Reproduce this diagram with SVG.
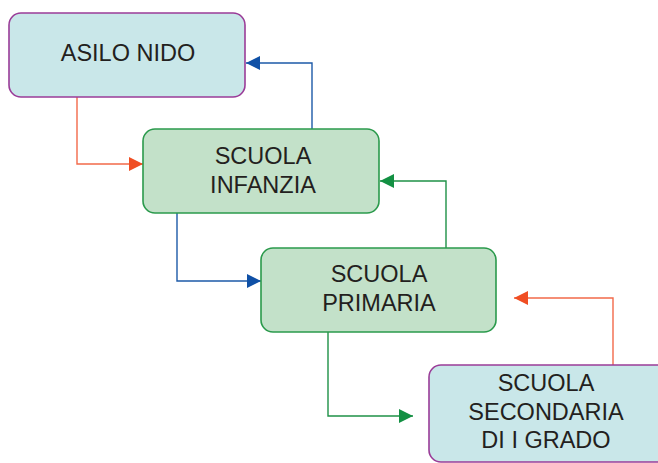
<svg xmlns="http://www.w3.org/2000/svg" width="658" height="463" viewBox="0 0 658 463">
  <style>
    .cyan { fill: #c9e7e9; stroke: #9a3c98; stroke-width: 1.6; }
    .green { fill: #c3e1c9; stroke: #2b9a4c; stroke-width: 1.6; }
    .lbl { font-family: "Liberation Sans", Arial, sans-serif; font-size: 23.5px; fill: #231f20; text-anchor: middle; }
    .wire { fill: none; stroke-width: 1.4; }
    .red { stroke: #f26a4a; }
    .blue { stroke: #1d5aa8; }
    .grn { stroke: #1f9147; }
  </style>
  <defs>
    <marker id="ahRed" viewBox="0 0 14 14" refX="14" refY="7" markerWidth="14" markerHeight="14" markerUnits="userSpaceOnUse" orient="auto">
      <path d="M0,0 L14,7 L0,14 Z" fill="#f04e23"/>
    </marker>
    <marker id="ahBlue" viewBox="0 0 14 14" refX="14" refY="7" markerWidth="14" markerHeight="14" markerUnits="userSpaceOnUse" orient="auto">
      <path d="M0,0 L14,7 L0,14 Z" fill="#0f50a6"/>
    </marker>
    <marker id="ahGreen" viewBox="0 0 14 14" refX="14" refY="7" markerWidth="14" markerHeight="14" markerUnits="userSpaceOnUse" orient="auto">
      <path d="M0,0 L14,7 L0,14 Z" fill="#139043"/>
    </marker>
  </defs>

  <g id="connectors">
    <path class="wire red" d="M77,97 V164 H143" marker-end="url(#ahRed)"/>
    <path class="wire blue" d="M312,129 V63 H246" marker-end="url(#ahBlue)"/>
    <path class="wire blue" d="M177,213 V281 H261" marker-end="url(#ahBlue)"/>
    <path class="wire grn" d="M446,248 V181 H380" marker-end="url(#ahGreen)"/>
    <path class="wire grn" d="M328,332 V416 H413" marker-end="url(#ahGreen)"/>
    <path class="wire red" d="M613,365 V298 H514" marker-end="url(#ahRed)"/>
  </g>

  <g id="asilo-nido">
    <rect class="cyan" x="9" y="13" width="236" height="84" rx="12"/>
    <text class="lbl" x="128" y="61">ASILO NIDO</text>
  </g>

  <g id="scuola-infanzia">
    <rect class="green" x="143" y="129" width="236" height="84" rx="12"/>
    <text class="lbl" x="263" y="164">SCUOLA</text>
    <text class="lbl" x="263" y="193">INFANZIA</text>
  </g>

  <g id="scuola-primaria">
    <rect class="green" x="261" y="248" width="235" height="84" rx="12"/>
    <text class="lbl" x="379" y="282">SCUOLA</text>
    <text class="lbl" x="379" y="311">PRIMARIA</text>
  </g>

  <g id="scuola-secondaria">
    <rect class="cyan" x="429" y="365" width="240" height="97" rx="12"/>
    <text class="lbl" x="546" y="391">SCUOLA</text>
    <text class="lbl" x="546" y="420">SECONDARIA</text>
    <text class="lbl" x="546" y="448">DI I GRADO</text>
  </g>
</svg>
